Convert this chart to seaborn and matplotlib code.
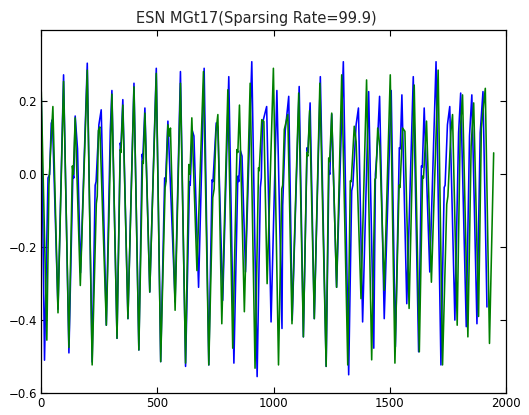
import numpy as np
import pandas as pd
import seaborn as sns
import matplotlib
matplotlib.use("Agg")
import matplotlib.pyplot as plt

# Target signal (blue) and ESN prediction (green): time step and value at each turning point
target_t = [0, 14, 29, 36, 43, 48, 72, 96, 119, 136, 140, 146, 156, 169, 198, 219, 232, 236, 248, 258,
            280, 297, 304, 326, 340, 343, 351, 373, 399, 420, 434, 437, 446, 467, 495, 514, 531, 535,
            545, 576, 599, 621, 638, 641, 650, 657, 677, 701, 721, 735, 739, 753, 760, 781, 807, 829,
            846, 850, 857, 864, 879, 906, 929, 943, 947, 952, 960, 970, 989, 1014, 1036, 1039, 1050,
            1065, 1080, 1110, 1128, 1144, 1148, 1157, 1175, 1201, 1226, 1238, 1242, 1250, 1271, 1300,
            1323, 1336, 1341, 1355, 1365, 1383, 1409, 1431, 1438, 1445, 1456, 1476, 1506, 1524, 1541,
            1545, 1552, 1573, 1601, 1624, 1636, 1640, 1648, 1672, 1699, 1720, 1734, 1738, 1748, 1758,
            1780, 1796, 1805, 1829, 1843, 1853, 1875, 1889, 1901, 1918]
target_v = [0.21, -0.51, -0.01, 0.0, 0.14, 0.15, -0.37, 0.273, -0.49, 0.0, -0.01, 0.16, 0.07, -0.27,
            0.305, -0.515, -0.03, -0.02, 0.136, 0.177, -0.414, 0.12, 0.23, -0.45, 0.086, 0.075, 0.205,
            -0.396, 0.25, -0.482, 0.055, 0.045, 0.182, -0.323, 0.291, -0.514, -0.01, -0.02, 0.146,
            -0.35, 0.282, -0.527, -0.02, -0.03, 0.12, 0.105, -0.31, 0.291, -0.523, -0.015, -0.02,
            0.141, 0.13, -0.346, 0.268, -0.518, -0.005, -0.02, 0.065, 0.05, -0.268, 0.309, -0.555,
            -0.036, -0.01, 0.14, 0.16, 0.186, -0.405, 0.23, -0.423, -0.086, 0.12, 0.214, -0.40, 0.241,
            -0.446, 0.073, 0.06, 0.196, -0.396, 0.268, -0.527, 0.009, 0.0, 0.165, -0.31, 0.309, -0.55,
            -0.045, -0.03, 0.136, 0.182, -0.405, 0.227, -0.477, 0.0, 0.06, 0.214, -0.396, 0.23,
            -0.473, 0.073, 0.07, 0.218, -0.355, 0.268, -0.487, 0.023, 0.02, 0.182, -0.268, 0.309,
            -0.523, -0.036, -0.03, 0.136, 0.186, -0.40, 0.114, 0.223, -0.418, 0.105, 0.218, -0.41,
            0.114, 0.227, -0.364]

pred_t = [0, 24, 33, 40, 50, 72, 96, 119, 134, 138, 146, 168, 198, 219, 237, 241, 246, 252, 280, 304,
          326, 340, 343, 351, 373, 399, 420, 436, 439, 446, 467, 495, 514, 533, 537, 545, 551, 556,
          576, 599, 621, 635, 640, 648, 670, 698, 721, 738, 744, 752, 760, 777, 803, 824, 842, 846,
          853, 874, 899, 920, 935, 938, 949, 958, 972, 999, 1021, 1035, 1039, 1046, 1061, 1079, 1108,
          1128, 1143, 1147, 1155, 1175, 1199, 1226, 1237, 1241, 1250, 1271, 1293, 1319, 1330, 1334,
          1347, 1355, 1376, 1400, 1422, 1436, 1440, 1448, 1457, 1476, 1502, 1522, 1540, 1544, 1555,
          1565, 1583, 1605, 1627, 1641, 1645, 1658, 1679, 1708, 1727, 1745, 1750, 1763, 1770, 1790,
          1803, 1813, 1836, 1850, 1861, 1882, 1894, 1911, 1929, 1947]
pred_v = [0.227, -0.455, -0.03, 0.064, 0.186, -0.38, 0.255, -0.475, 0.023, 0.0, 0.155, -0.305, 0.286,
          -0.523, -0.08, -0.06, 0.12, 0.13, -0.414, 0.22, -0.45, 0.068, 0.06, 0.19, -0.396, 0.24,
          -0.482, 0.036, 0.03, 0.168, -0.323, 0.277, -0.514, -0.036, -0.02, 0.136, 0.105, 0.127,
          -0.373, 0.25, -0.518, 0.027, 0.0, 0.155, -0.264, 0.282, -0.523, -0.064, -0.04, 0.118,
          0.164, -0.41, 0.232, -0.477, 0.068, 0.06, 0.19, -0.377, 0.25, -0.532, 0.018, 0.01, 0.15,
          0.145, -0.30, 0.291, -0.523, -0.04, -0.03, 0.123, 0.164, -0.41, 0.223, -0.446, 0.06, 0.05,
          0.175, -0.396, 0.25, -0.527, 0.045, 0.035, 0.168, -0.31, 0.273, -0.523, -0.018, -0.02,
          0.132, 0.09, -0.341, 0.259, -0.509, -0.014, -0.01, 0.127, 0.077, -0.318, 0.273, -0.518,
          -0.03, -0.036, 0.127, 0.118, -0.368, 0.245, -0.487, -0.005, -0.01, 0.146, -0.296, 0.286,
          -0.523, -0.082, -0.06, 0.118, 0.164, -0.414, 0.118, 0.218, -0.446, 0.077, 0.196, -0.39,
          0.127, 0.236, -0.464, 0.059]

x_ticks = [0, 500, 1000, 1500, 2000]
y_ticks = [-0.6, -0.4, -0.2, 0.0, 0.2]

sns.set_style("ticks")
plt.rcParams["font.family"] = ["DejaVu Sans"]

fig = plt.figure(figsize=(5.29, 4.15), dpi=100)
ax = fig.add_axes([0.078, 0.053, 0.8785, 0.8747])

target = pd.DataFrame({"t": target_t, "v": target_v})
pred = pd.DataFrame({"t": pred_t, "v": pred_v})
sns.lineplot(data=target, x="t", y="v", ax=ax, color=(0, 0, 1), linewidth=1.15,
             estimator=None, sort=False)
sns.lineplot(data=pred, x="t", y="v", ax=ax, color=(0, 0.5, 0), linewidth=1.15,
             estimator=None, sort=False)

ax.set_xlim(0, 2000)
ax.set_ylim(-0.6, 0.396)
ax.set_xticks(x_ticks)
ax.set_xticklabels([str(v) for v in x_ticks])
ax.set_yticks(y_ticks)
ax.set_yticklabels([f"{v:.1f}".replace("-", "\u2212") for v in y_ticks])
ax.set_xlabel("")
ax.set_ylabel("")
ax.tick_params(direction="in", top=True, right=True, length=4, width=0.8,
               labelsize=8.5, colors="black", pad=3)
for s in ax.spines.values():
    s.set_color("black")
    s.set_linewidth(0.9)

ax.set_title("ESN MGt17(Sparsing Rate=99.9)", fontsize=10.5, x=0.462, pad=5)

fig.savefig("out.png", dpi=100)
